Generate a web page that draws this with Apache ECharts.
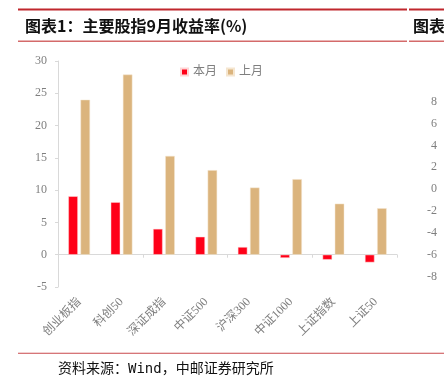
<!DOCTYPE html>
<html>
<head>
<meta charset="utf-8">
<script src="https://cdn.jsdelivr.net/npm/echarts@6/dist/echarts.min.js"></script>
<style>
html,body{margin:0;padding:0;background:#fff;}
#c{width:444px;height:386px;}
</style>
</head>
<body>
<div id="c"></div>
<script>
var categories = ['创业板指','科创50','深证成指','中证500','沪深300','中证1000','上证指数','上证50'];
var thisMonth = [9.05, 8.13, 4.0, 2.78, 1.19, -0.5, -0.77, -1.19];
var lastMonth = [24.0, 27.9, 15.3, 13.1, 10.4, 11.7, 7.9, 7.2];
var seriesNames = ['本月', '上月'];
var yMin = -5, yMax = 30, yStep = 5;
var rightMin = -8, rightMax = 8, rightStep = 2;
var titleText = '图表1：主要股指9月收益率(%)';
var rightTitleText = '图表2';
var sourceText = '资料来源：Wind，中邮证券研究所';

var RED = '#FF0018', TAN = '#DBB47D', GRAY = '#7f7f7f', AXIS = '#d9d9d9';
var serif = '"Liberation Serif", "Noto Sans CJK SC", serif';
var cjk = '"Noto Sans CJK SC", sans-serif';

var chart = echarts.init(document.getElementById('c'), null, {renderer: 'canvas'});
chart.setOption({
  animation: false,
  backgroundColor: '#fff',
  legend: {
    data: seriesNames,
    left: 175, top: 61,
    icon: 'rect', itemWidth: 7, itemHeight: 7, itemGap: 9,
    textStyle: {color: GRAY, fontSize: 12, fontFamily: serif}
  },
  grid: [
    {left: 58, right: 47, top: 61, bottom: 99, containLabel: false},
    {left: 441, width: 100, top: 101.7, height: 175, containLabel: false}
  ],
  xAxis: [
    {
      type: 'category', gridIndex: 0, data: categories,
      axisLine: {onZero: true, lineStyle: {color: AXIS, width: 1}},
      axisTick: {show: true, length: 3, lineStyle: {color: AXIS}},
      axisLabel: {show: false},
      splitLine: {show: false}
    },
    {
      type: 'category', gridIndex: 0, data: categories, position: 'bottom',
      axisLine: {show: false, onZero: false},
      axisTick: {show: false},
      axisLabel: {show: true, interval: 0, rotate: 45, margin: 13, color: GRAY, fontSize: 12, fontFamily: serif},
      splitLine: {show: false}
    },
    {type: 'value', gridIndex: 1, show: false}
  ],
  yAxis: [
    {
      type: 'value', gridIndex: 0, min: yMin, max: yMax, interval: yStep,
      axisLine: {show: true, lineStyle: {color: AXIS}},
      axisTick: {show: true, length: 3, lineStyle: {color: AXIS}},
      axisLabel: {margin: 11, color: GRAY, fontSize: 12, fontFamily: serif},
      splitLine: {show: false}
    },
    {
      type: 'value', gridIndex: 1, min: rightMin, max: rightMax, interval: rightStep,
      axisLine: {show: false}, axisTick: {show: false},
      axisLabel: {margin: 4, color: GRAY, fontSize: 12, fontFamily: serif},
      splitLine: {show: false}
    }
  ],
  series: [
    {
      name: seriesNames[0], type: 'bar', xAxisIndex: 0, yAxisIndex: 0,
      data: thisMonth, barWidth: 9.5, barGap: '28%',
      itemStyle: {color: RED, borderColor: '#ffd6d6', borderWidth: 0.5}
    },
    {
      name: seriesNames[1], type: 'bar', xAxisIndex: 0, yAxisIndex: 0,
      data: lastMonth, barWidth: 9.5, barGap: '28%',
      itemStyle: {color: TAN, borderColor: '#f5e6d0', borderWidth: 0.5}
    }
  ],
  graphic: [
    {type: 'rect', shape: {x: 18, y: 8.5, width: 389, height: 2}, style: {fill: '#C0272D'}, silent: true},
    {type: 'rect', shape: {x: 409, y: 8.5, width: 40, height: 2}, style: {fill: '#C0272D'}, silent: true},
    {type: 'text', x: 25, y: 25.7, style: {text: titleText, fill: '#111', font: 'bold 16px ' + cjk, textVerticalAlign: 'middle', textAlign: 'left'}, silent: true},
    {type: 'text', x: 413, y: 25.7, style: {text: rightTitleText, fill: '#111', font: 'bold 16px ' + cjk, textVerticalAlign: 'middle', textAlign: 'left'}, silent: true},
    {type: 'rect', shape: {x: 18, y: 40.5, width: 389, height: 1.5}, style: {fill: '#D46A6A'}, silent: true},
    {type: 'rect', shape: {x: 409, y: 40.5, width: 40, height: 1.5}, style: {fill: '#D46A6A'}, silent: true},
    {type: 'rect', shape: {x: 18, y: 352.8, width: 426, height: 1}, style: {fill: '#C9494B'}, silent: true},
    {type: 'text', x: 58, y: 369, style: {text: sourceText, fill: '#111', font: '14px "DejaVu Sans Mono", ' + cjk, textVerticalAlign: 'middle', textAlign: 'left'}, silent: true}
  ]
});
</script>
</body>
</html>
